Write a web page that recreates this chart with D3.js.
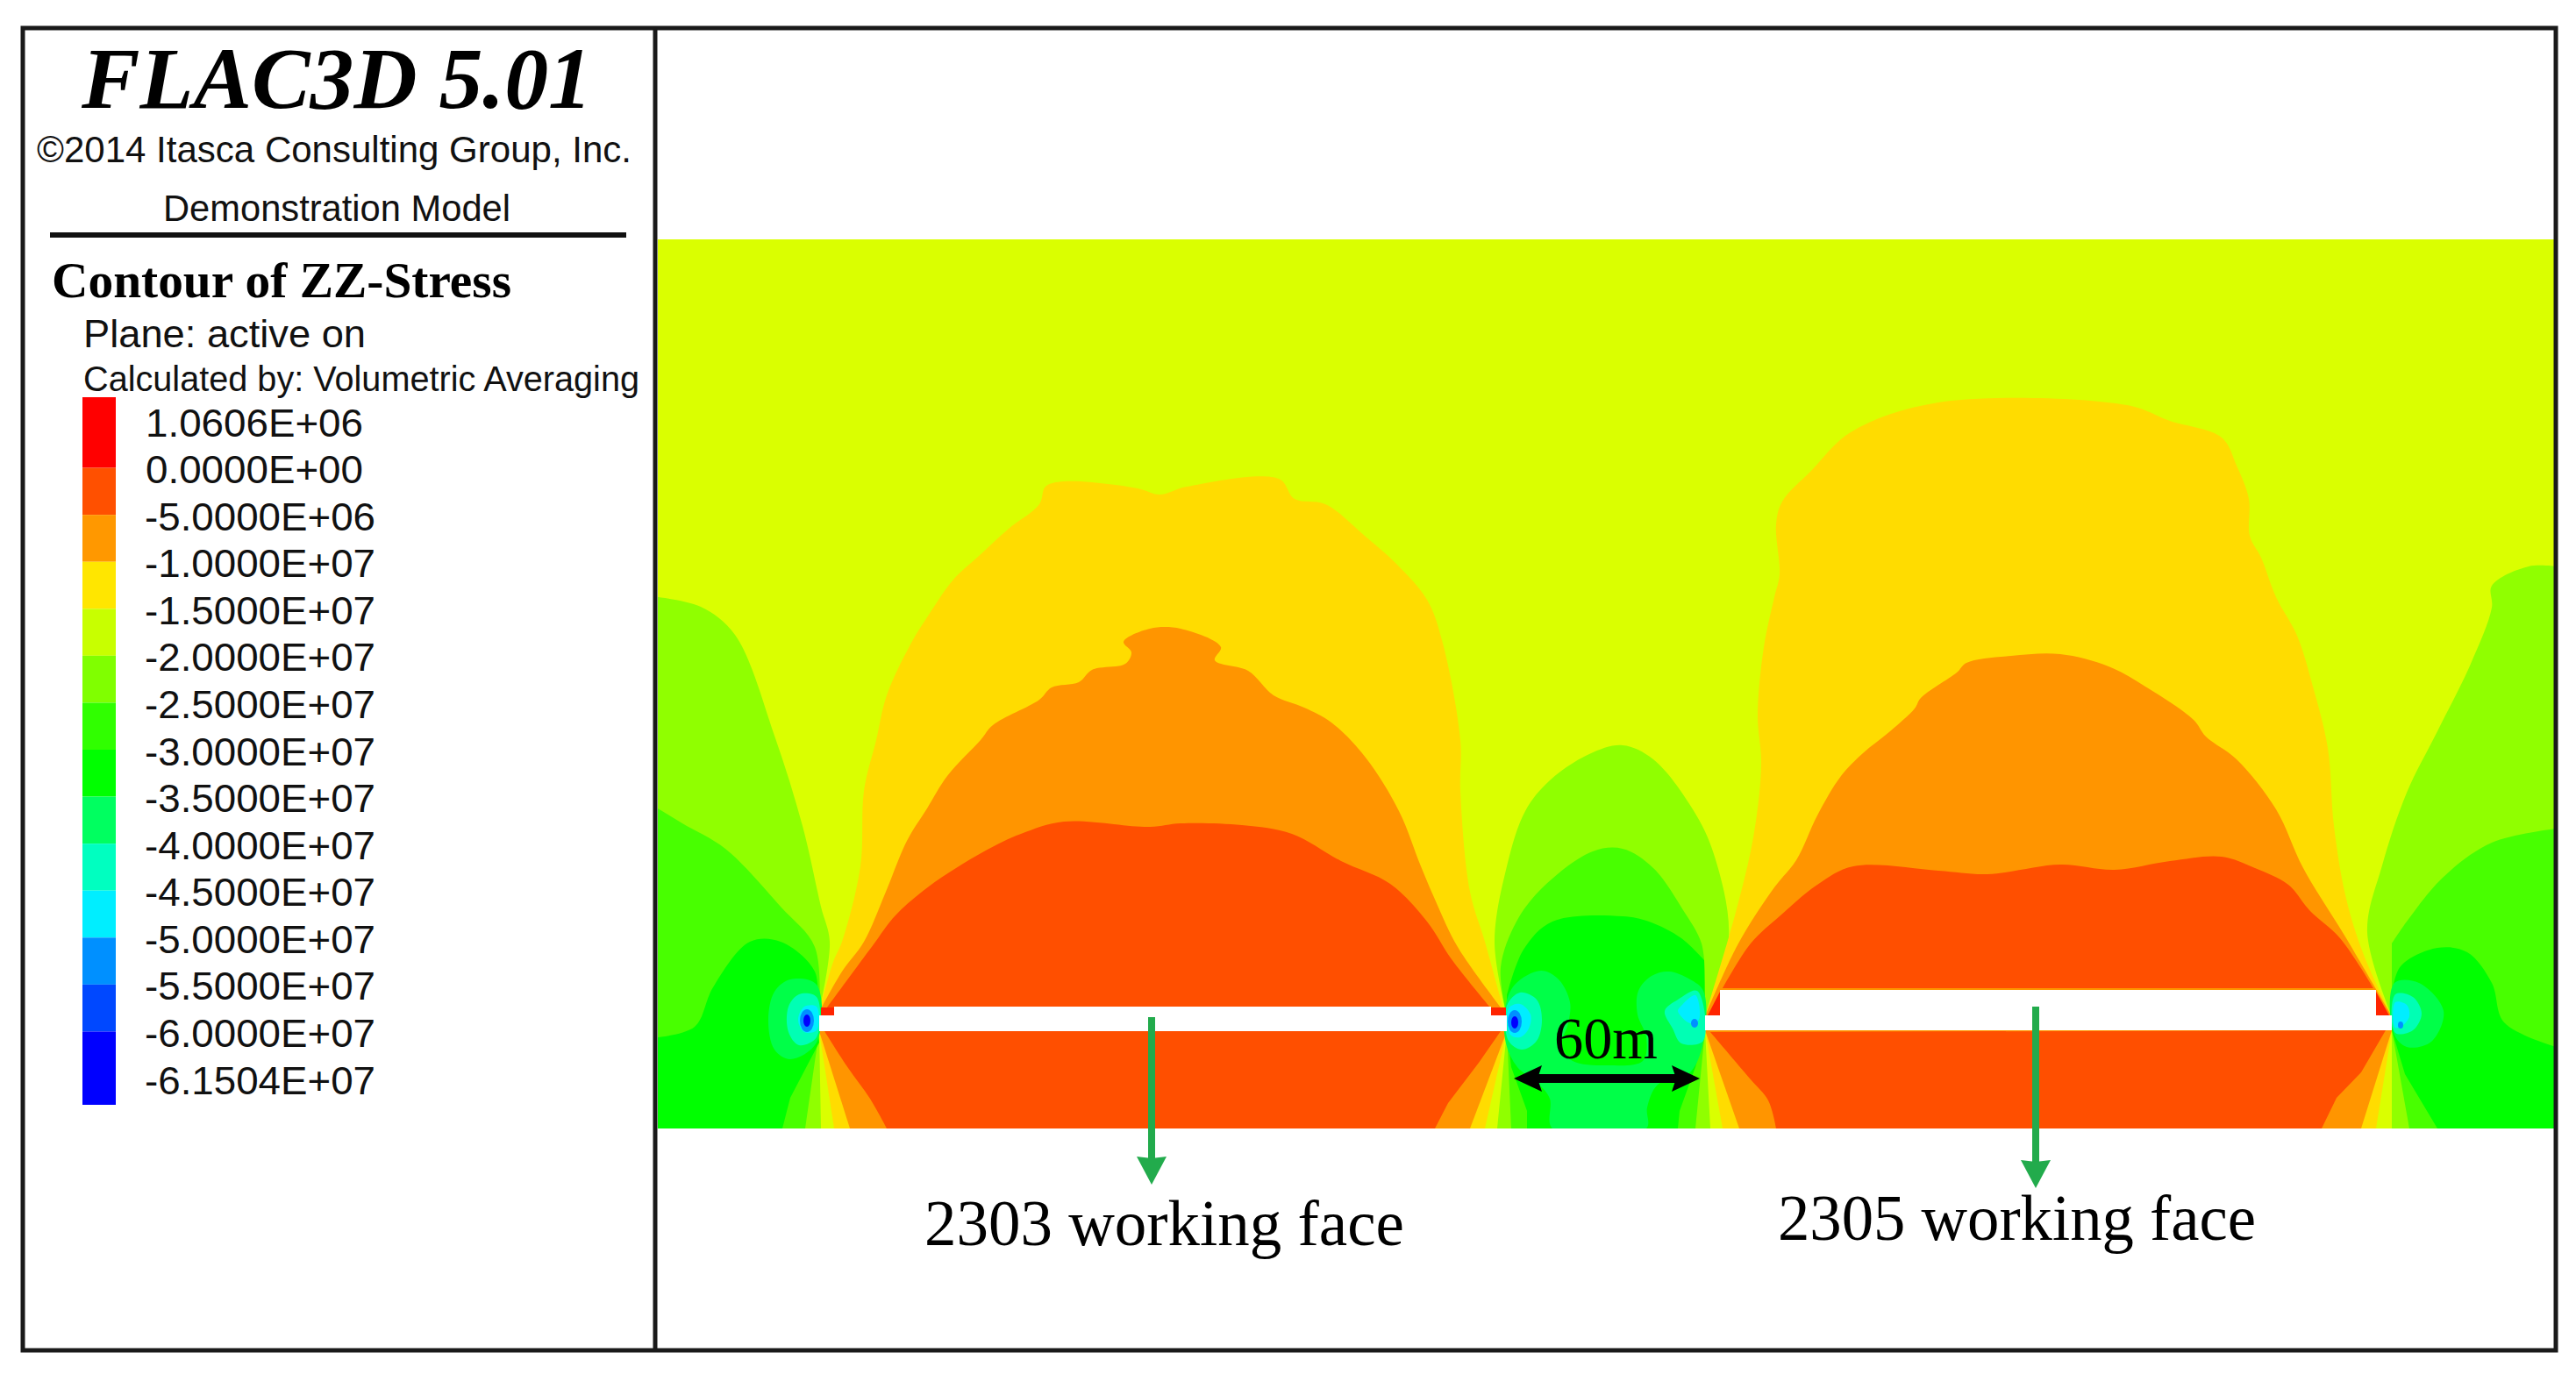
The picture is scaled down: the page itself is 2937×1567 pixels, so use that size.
<!DOCTYPE html>
<html>
<head>
<meta charset="utf-8">
<title>FLAC3D ZZ-Stress contour</title>
<script src="https://cdn.jsdelivr.net/npm/d3@7"></script>
<style>
  body { margin: 0; background: #fff; }
  svg { display: block; }
  .sans { font-family: "Liberation Sans", Arial, sans-serif; fill: #111; }
  .serif { font-family: "Liberation Serif", "Times New Roman", serif; fill: #000; }
</style>
</head>
<body>
<div id="chart"></div>
<script>
// legend
const legendLabels = ['1.0606E+06', '0.0000E+00', '-5.0000E+06', '-1.0000E+07', '-1.5000E+07',
  '-2.0000E+07', '-2.5000E+07', '-3.0000E+07', '-3.5000E+07', '-4.0000E+07',
  '-4.5000E+07', '-5.0000E+07', '-5.5000E+07', '-6.0000E+07', '-6.1504E+07'];
const bandColors = ['#FF0000', '#FF5000', '#FF9800', '#FFE600', '#C8FF00', '#80FF00', '#30FF00',
  '#00FF00', '#00FF60', '#00FFC0', '#00EEFF', '#0090FF', '#0048FF', '#0000FF'];

// contour outlines, in plot units [x, y]
const bottomLeftLime = [[-2,406],[47,417],[86,449],[131,564],[163,667],[184,759],[194,799],[182,879],[182,901],[184,1012],[-2,1012]];
const bottomLeftGreen = [[-2,647],[26,664],[75,693],[138,759],[177,805],[182,879],[182,901],[166,1012],[-2,1012]];
const leftGreen = [[-2,908],[40,896],[61,851],[103,799],[138,799],[177,833],[179,879],[182,914],[149,977],[140,1012],[-2,1012]];
const leftBlob = [[179,848],[149,842],[131,856],[124,888],[131,922],[149,933],[179,914]];
const leftTeal = [[179,862],[159,859],[147,873],[147,902],[159,917],[179,908]];
const leftCyan = [[179,873],[165,873],[158,888],[165,902],[179,900]];

const pillarLime = [[965,879],[952,799],[966,713],[987,650],[1015,615],[1060,585],[1098,575],[1133,591],[1178,648],[1202,699],[1219,795],[1192,884],[1192,900],[1198,1012],[955,1012],[966,901]];
const pillarGreenA = [[965,879],[959,828],[977,776],[1008,736],[1064,696],[1098,693],[1133,715],[1167,763],[1188,801],[1192,846],[1192,900],[1181,1012],[971,1012],[966,901]];
const pillarGreenB = [[966,860],[985,808],[1018,776],[1098,770],[1128,776],[1165,795],[1191,820],[1192,900],[1181,942],[1163,992],[1161,1012],[989,1012],[989,992],[971,942],[966,901]];
const pillarBlob = [[964,875],[975,848],[1005,832],[1025,842],[1038,868],[1036,892],[1028,918],[1041,935],[1081,940],[1121,935],[1125,908],[1115,882],[1116,855],[1131,838],[1151,833],[1175,842],[1190,855],[1191,908],[1175,948],[1138,962],[1126,988],[1125,1012],[1018,1012],[1015,978],[1001,960],[978,942],[965,915]];
const pillarTealL = [[966,872],[981,857],[1000,865],[1006,888],[1000,912],[983,922],[968,912]];
const pillarCyanL = [[968,875],[981,870],[993,882],[991,898],[981,908],[970,905]];
const pillarTealR = [[1183,855],[1161,865],[1146,878],[1155,898],[1165,915],[1190,912]];
const pillarCyanR = [[1181,860],[1165,872],[1161,878],[1175,892],[1185,888]];

const rightLime = [[2162,371],[2131,371],[2089,393],[2089,418],[2065,482],[2027,559],[1992,629],[1964,712],[1947,788],[1975,884],[1975,1012],[2162,1012]];
const rightGreenA = [[2162,670],[2089,686],[2034,725],[1992,776],[1975,801],[1975,900],[1995,1012],[2162,1012]];
const rightGreenB = [[2162,919],[2103,891],[2089,846],[2061,811],[2027,806],[1985,827],[1975,859],[1975,900],[1990,950],[2027,1012],[2162,1012]];
const rightBlob = [[1978,846],[2006,846],[2034,878],[2020,913],[1992,919],[1977,903]];
const rightTeal = [[1979,859],[1999,862],[2009,881],[1999,900],[1979,903]];
const rightCyan = [[1979,868],[1992,871],[1995,884],[1988,894],[1979,897]];

const yellow2303 = [[182,879],[198,822],[208,799],[229,713],[233,627],[247,569],[259,518],[286,460],[307,426],[335,386],[363,360],[398,328],[433,300],[440,280],[461,274],[545,282],[570,289],[601,280],[706,271],[724,294],[759,300],[805,337],[840,368],[875,409],[892,455],[913,569],[913,627],[924,742],[941,799],[963,879]];
const orange2303 = [[182,879],[208,833],[233,799],[258,742],[282,684],[305,647],[328,610],[366,569],[380,552],[433,523],[447,509],[478,503],[493,489],[531,482],[538,469],[529,457],[559,442],[594,442],[640,463],[633,478],[671,490],[700,518],[735,532],[766,549],[805,589],[843,650],[868,713],[885,753],[910,805],[963,879]];
const red2303 = [[191,874],[244,802],[268,770],[307,736],[370,696],[412,676],[461,662],[559,668],[594,664],[664,666],[721,676],[777,707],[833,733],[875,776],[903,819],[947,874]];
const yellow2303Low = [[182,901],[199,1012],[941,1012],[966,901]];
const orange2303Low = [[182,901],[217,1012],[924,1012],[966,901]];
const red2303Low = [[188,901],[215,943],[240,978],[259,1012],[884,1012],[899,983],[934,937],[959,901]];

const yellow2305 = [[1192,884],[1226,769],[1247,680],[1256,597],[1252,540],[1259,463],[1271,406],[1277,380],[1273,323],[1280,297],[1313,262],[1358,218],[1458,184],[1673,187],[1722,205],[1781,224],[1798,256],[1812,294],[1813,336],[1826,361],[1843,406],[1867,450],[1885,508],[1902,578],[1909,667],[1923,750],[1943,814],[1975,884]];
const orange2305 = [[1192,884],[1230,801],[1271,737],[1296,706],[1320,655],[1347,610],[1372,584],[1403,559],[1431,533],[1438,521],[1479,492],[1490,481],[1541,473],[1597,471],[1652,485],[1694,508],[1749,546],[1763,565],[1798,591],[1843,648],[1874,715],[1923,795],[1975,884]];
const red2305 = [[1212,852],[1244,801],[1278,769],[1320,734],[1361,713],[1458,718],[1514,722],[1597,711],[1659,717],[1722,707],[1781,702],[1819,715],[1857,734],[1881,763],[1916,795],[1954,852]];
const yellow2305Low = [[1192,900],[1212,1012],[1957,1012],[1975,900]];
const orange2305Low = [[1192,900],[1231,1012],[1940,1012],[1975,900]];
const red2305Low = [[1198,902],[1243,955],[1264,980],[1273,1012],[1895,1012],[1912,977],[1940,948],[1968,900]];

const void2303 = [[199,873],[948,873],[948,883],[966,883],[966,901],[182,901],[182,883],[199,883]];
const void2305 = [[1209,854],[1957,854],[1957,883],[1975,883],[1975,900],[1192,900],[1192,883],[1209,883]];
const cornerPieces = [
  [[184,874],[199,874],[199,883],[184,883]],
  [[948,874],[965,874],[965,883],[948,883]],
  [[1209,856],[1195,883],[1209,883]],
  [[1957,856],[1972,883],[1957,883]]
];
// small high stress spots next to the roadway corners: [x, y, rx, ry, colour]
const spots = [
  [168, 889, 8, 13, '#0090FF'], [168, 889, 4, 7, '#0000FF'],
  [975, 890, 8, 13, '#0090FF'], [975, 891, 4, 7, '#0000FF'],
  [1180, 892, 4, 5, '#0090FF'], [1985, 894, 3, 4, '#0090FF']
];

// [outline, how many leading points follow a curve, colour]; the rest of the outline is straight
const zones = [
  [pillarLime, 12, '#90FF00'], [bottomLeftLime, 8, '#90FF00'], [rightLime, 10, '#90FF00'],
  [pillarGreenA, 10, '#48FF00'], [bottomLeftGreen, 6, '#48FF00'], [rightGreenA, 5, '#48FF00'],
  [pillarGreenB, 7, '#00FF00'], [leftGreen, 7, '#00FF00'], [rightGreenB, 7, '#00FF00'],
  [yellow2303, 30, '#FFDC00'], [yellow2303Low, 0, '#FFDC00'], [yellow2305, 28, '#FFDC00'], [yellow2305Low, 0, '#FFDC00'],
  [orange2303, 30, '#FF9500'], [orange2303Low, 0, '#FF9500'], [orange2305, 23, '#FF9500'], [orange2305Low, 0, '#FF9500'],
  [red2303, 16, '#FF4F00'], [red2303Low, 4, '#FF4F00'], [red2305, 16, '#FF4F00'], [red2305Low, 4, '#FF4F00']
];
const rounded = [
  [pillarBlob, '#00FF48'],
  [leftBlob, '#00FF48'], [leftTeal, '#00FFB4'], [leftCyan, '#00EEFF'],
  [pillarTealL, '#00FFB4'], [pillarCyanL, '#00EEFF'], [pillarTealR, '#00FFB4'], [pillarCyanR, '#00EEFF'],
  [rightBlob, '#00FF48'], [rightTeal, '#00FFB4'], [rightCyan, '#00EEFF']
];

const width = 2937, height = 1567;
const svg = d3.select('#chart').append('svg').attr('width', width).attr('height', height);

// plot scales
const x = d3.scaleLinear().domain([-2, 2162]).range([750, 2914]);
const y = d3.scaleLinear().domain([-2, 1012]).range([273, 1287]);
const line = d3.line().x(d => x(d[0])).y(d => y(d[1])).curve(d3.curveLinearClosed);
const arc = d3.line().x(d => x(d[0])).y(d => y(d[1])).curve(d3.curveCatmullRom.alpha(0.5));
const straight = d3.line().x(d => x(d[0])).y(d => y(d[1]));
const blob = d3.line().x(d => x(d[0])).y(d => y(d[1])).curve(d3.curveCatmullRomClosed.alpha(0.5));

function zonePath(d) {
  const head = d[1] > 1 ? arc(d[0].slice(0, d[1])) : '';
  const tail = d[0].slice(d[1] > 1 ? d[1] : 0);
  const rest = tail.length ? straight(tail) : '';
  return head + (head ? rest.replace('M', 'L') : rest) + 'Z';
}

svg.append('clipPath').attr('id', 'plotClip').append('rect')
  .attr('x', x(-2)).attr('y', y(-2)).attr('width', x(2162) - x(-2)).attr('height', y(1012) - y(-2));
const plot = svg.append('g').attr('clip-path', 'url(#plotClip)');
plot.append('rect').attr('x', x(-2)).attr('y', y(-2)).attr('width', x(2162) - x(-2)).attr('height', y(1012) - y(-2)).attr('fill', '#DAFF00');
plot.selectAll('path.zone').data(zones).enter().append('path')
  .attr('class', 'zone').attr('d', zonePath).attr('fill', d => d[2]);
plot.selectAll('path.blob').data(rounded).enter().append('path')
  .attr('class', 'blob').attr('d', d => blob(d[0])).attr('fill', d => d[1]);
plot.selectAll('ellipse').data(spots).enter().append('ellipse')
  .attr('cx', d => x(d[0])).attr('cy', d => y(d[1])).attr('rx', d => d[2]).attr('ry', d => d[3]).attr('fill', d => d[4]);
plot.selectAll('path.corner').data(cornerPieces).enter().append('path')
  .attr('class', 'corner').attr('d', line).attr('fill', '#FF2400');
plot.selectAll('path.void').data([void2303, void2305]).enter().append('path')
  .attr('class', 'void').attr('d', line).attr('fill', '#fff');

// arrows
function arrowHead(g, tipX, tipY, dx, dy, len, half, notch, color) {
  const px = -dy, py = dx;
  const pts = [[tipX, tipY],
    [tipX - dx * len + px * half, tipY - dy * len + py * half],
    [tipX - dx * (len - notch), tipY - dy * (len - notch)],
    [tipX - dx * len - px * half, tipY - dy * len - py * half]];
  g.append('path').attr('d', d3.line()(pts) + 'Z').attr('fill', color);
}
const arrows = svg.append('g');
arrows.append('line').attr('x1', x(990)).attr('x2', x(1170)).attr('y1', y(955)).attr('y2', y(955)).attr('stroke', '#000').attr('stroke-width', 10);
arrowHead(arrows, x(974), y(955), -1, 0, 32, 15, 5, '#000');
arrowHead(arrows, x(1186), y(955), 1, 0, 32, 15, 5, '#000');
[[561, 885, 1076], [1569, 873, 1080]].forEach(a => {
  arrows.append('line').attr('x1', x(a[0])).attr('x2', x(a[0])).attr('y1', y(a[1])).attr('y2', y(a[2]) - 20).attr('stroke', '#22AB4C').attr('stroke-width', 8);
  arrowHead(arrows, x(a[0]), y(a[2]), 0, 1, 32, 17, 2, '#22AB4C');
});

// frame
const frame = svg.append('g').attr('fill', 'none').attr('stroke', '#1a1a1a').attr('stroke-width', 5);
frame.append('rect').attr('x', 26).attr('y', 32).attr('width', 2888).attr('height', 1508);
frame.append('line').attr('x1', 747).attr('x2', 747).attr('y1', 32).attr('y2', 1540);
svg.append('line').attr('x1', 57).attr('x2', 714).attr('y1', 268).attr('y2', 268).attr('stroke', '#111').attr('stroke-width', 6);

// header text
function label(cls, str, px, py, size, len, extra) {
  const t = svg.append('text').attr('class', cls).attr('x', px).attr('y', py).attr('font-size', size).text(str);
  if (len) t.attr('textLength', len).attr('lengthAdjust', 'spacingAndGlyphs');
  if (extra) Object.keys(extra).forEach(k => t.attr(k, extra[k]));
  return t;
}
label('serif', 'FLAC3D 5.01', 93, 123, 100, 582, { 'font-weight': 'bold', 'font-style': 'italic' });
label('sans', '©2014 Itasca Consulting Group, Inc.', 42, 185, 42, 678);
label('sans', 'Demonstration Model', 186, 252, 43, 396);
label('serif', 'Contour of ZZ-Stress', 59, 339, 56, 524, { 'font-weight': 'bold' });
label('sans', 'Plane: active on', 95, 396, 45, 322);
label('sans', 'Calculated by: Volumetric Averaging', 95, 446, 40, 634);

// legend colour bar and labels
const legendY = d3.scaleLinear().domain([0, 14]).range([483, 1233]);
const bandTop = i => i === 0 ? 453 : legendY(i) - 3;
const bandBottom = i => i === 13 ? 1260 : legendY(i + 1) - 3;
svg.selectAll('rect.band').data(bandColors).enter().append('rect')
  .attr('class', 'band').attr('x', 94).attr('width', 38)
  .attr('y', (d, i) => bandTop(i)).attr('height', (d, i) => bandBottom(i) - bandTop(i))
  .attr('fill', d => d);
svg.selectAll('text.legend').data(legendLabels).enter().append('text')
  .attr('class', 'legend sans').attr('x', d => d[0] === '-' ? 165 : 166)
  .attr('y', (d, i) => legendY(i) + 14.5).attr('font-size', 45)
  .attr('textLength', d => d[0] === '-' ? 263 : 248).attr('lengthAdjust', 'spacingAndGlyphs')
  .text(d => d);

// annotations
label('serif', '60m', 1772, 1207, 68, 118);
label('serif', '2303 working face', 1054, 1420, 73, 547);
label('serif', '2305 working face', 2027, 1414, 73, 545);
</script>
</body>
</html>
